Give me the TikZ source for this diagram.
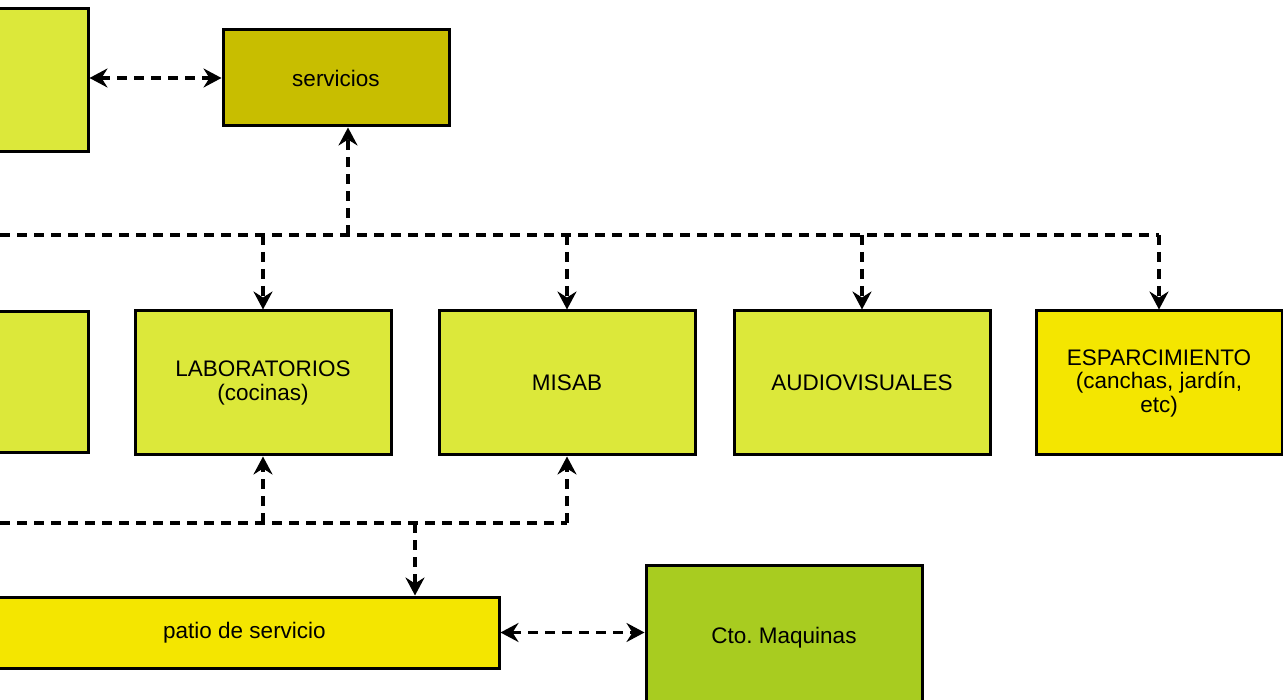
\documentclass[tikz,border=0pt]{standalone}
\usepackage{fontspec}
\setmainfont{Liberation Sans}
\usetikzlibrary{arrows.meta,calc}
\definecolor{lgreen}{RGB}{220,232,58}
\definecolor{olive}{RGB}{200,190,0}
\definecolor{yel}{RGB}{244,230,0}
\definecolor{mgreen}{RGB}{168,204,32}
\frenchspacing
\begin{document}
\begin{tikzpicture}[x=1pt,y=-1pt,
  box/.style={draw=black,line width=3pt,rectangle,align=center,inner sep=0pt,
    font=\fontsize{22.5}{23.5}\selectfont,text=black},
  dline/.style={line width=3.8pt,dash pattern=on 10pt off 7pt},
  tip/.style={-{Stealth[length=18pt,width=19pt,inset=6pt]}},
  both/.style={{Stealth[length=18pt,width=19pt,inset=6pt]}-{Stealth[length=18pt,width=19pt,inset=6pt]}}]
\useasboundingbox[fill=white] (0,0) rectangle (1283,700);
% boxes
\node[box,fill=lgreen,minimum width=95,minimum height=143] (tl) at (40.5,80.5) {};
\node[box,fill=olive,minimum width=226,minimum height=96] (serv) at (336,78) {servicios};
\node[box,fill=lgreen,minimum width=96,minimum height=141] (ml) at (40,382.5) {};
\node[box,fill=lgreen,minimum width=256,minimum height=144] (lab) at (263,383) {LABORATORIOS\\(cocinas)};
\node[box,fill=lgreen,minimum width=256,minimum height=144] (misab) at (567,383) {MISAB};
\node[box,fill=lgreen,minimum width=256,minimum height=144] (audio) at (862,383) {AUDIOVISUALES};
\node[box,fill=yel,minimum width=246,minimum height=144] (esp) at (1159,383) {ESPARCIMIENTO\\(canchas, jardín,\\etc)};
\node[box,fill=yel,minimum width=509,minimum height=71] (patio) at (244.5,632.5) {patio de servicio};
\node[box,fill=mgreen,minimum width=276,minimum height=145] (cto) at (784,637.5) {Cto.\ Maquinas};
% coordinates
\coordinate (busL) at (0,235);
\coordinate (busL2) at (0,523);
\coordinate (sv) at ($(serv.south)+(12,0)$);
\coordinate (j) at (415,523);
% connectors
\draw[dline,both] (tl.east |- serv.west) -- (serv.west);
\draw[dline] (busL) -- (busL -| esp.north);
\draw[dline,tip] (busL -| esp.north) -- (esp.north);
\draw[dline,tip] (sv |- busL) -- (sv);
\draw[dline,tip] (lab.north |- busL) -- (lab.north);
\draw[dline,tip] (misab.north |- busL) -- (misab.north);
\draw[dline,tip] (audio.north |- busL) -- (audio.north);
\draw[dline] (busL2) -- (busL2 -| misab.south);
\draw[dline,tip] (busL2 -| misab.south) -- (misab.south);
\draw[dline,tip] (lab.south |- busL2) -- (lab.south);
\draw[dline,tip] (j) -- (j |- patio.north);
\draw[dline,both] (patio.east) -- (patio.east -| cto.west);
\end{tikzpicture}
\end{document}
